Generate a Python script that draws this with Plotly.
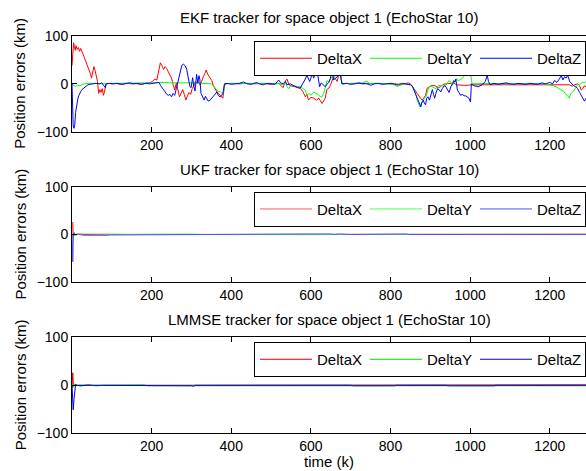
import plotly.graph_objects as go

# ---------------- data (time step k, position error km) ----------------
ekf_x_t = [0,2,4,6,8,10,13,16,19,22,25,28,31,34,37,40,43,46,49,52,55,58,61,64,67,70,73,76,79,82,85,90,100,110,120,130,140,150,160,170,180,190,198,203,208,213,218,222,226,230,234,238,242,246,250,254,258,262,266,270,274,278,282,286,290,294,298,302,306,310,314,318,322,326,330,334,337,341,346,351,355,359,364,368,372,376,379,382,385,400,420,440,460,480,500,520,530,536,540,545,550,560,573,580,586,590,594,600,607,614,620,628,632,636,640,645,649,653,657,662,666,670,674,678,690,700,720,740,760,780,800,820,835,845,850,855,859,863,867,872,876,880,884,888,892,897,902,909,915,920,926,932,940,950,959,965,975,985,995,1000,1100,1200,1250,1256,1262,1270,1275,1279,1283,1287,1291]
ekf_x = [38,75,86,78,70,80,72,76,68,74,66,60,55,48,42,35,28,22,12,22,36,28,18,5,-20,-12,-18,-10,-24,-15,0,1,0,1,-1,0,1,0,1,-1,0,1,3,6,10,8,30,44,38,30,36,32,25,18,12,-2,-13,2,-10,-27,-20,-12,-22,-34,-25,-18,-22,-10,-4,5,0,4,-3,8,15,22,29,20,12,7,-4,-10,-17,-20,-24,-28,-30,-8,0,1,0,1,0,1,-1,1,-8,6,10,-2,-4,-6,-9,-16,-27,-22,-34,-28,-30,-34,-30,-41,-35,-30,-12,-9,-3,8,15,10,5,20,25,0,1,0,1,0,1,0,1,-3,0,2,0,-5,-9,-15,-20,-27,-31,-34,-28,-24,-9,-6,-4,-3,-5,-8,-6,-1,0,1,2,-2,-3,-3,-3,-2,-2,-2,-2,-5,-2,0,-4,-13,-10,-4,-6]

ekf_y_t = [0,3,8,14,20,26,32,40,60,80,100,150,200,220,250,300,340,350,356,360,364,368,372,376,381,383,400,450,500,520,530,536,540,545,549,555,565,573,580,586,590,596,600,607,612,618,624,628,632,636,641,645,649,653,658,662,666,670,674,678,700,730,741,746,780,800,810,817,822,835,850,855,859,863,867,871,874,878,882,885,889,893,897,902,909,914,920,926,932,940,947,952,955,960,966,970,975,980,985,990,993,998,1001,1005,1050,1100,1150,1185,1200,1210,1220,1228,1235,1240,1245,1249,1253,1258,1265,1270,1278,1283,1287,1291]
ekf_y = [0,-3,-5,-3,-4,-1,0,1,1,0,1,1,2,3,2,2,1,0,-5,-10,-13,-17,-16,-20,-18,0,1,1,0,1,-2,2,-6,-10,-4,-3,-6,-6,-10,-13,-24,-20,-24,-17,-20,-22,-27,-27,-20,-10,7,3,10,15,12,18,18,22,29,0,1,2,6,1,1,0,-2,-6,-3,0,-2,-5,-13,-20,-34,-42,-48,-40,-38,-30,-27,-15,-6,-5,-9,-10,-4,-3,-5,-2,7,3,-3,2,11,6,9,11,17,18,20,22,20,0,1,0,1,0,-2,-4,-8,-13,-15,-22,-25,-30,-20,-17,-8,-2,0,4,2,5]

ekf_z_t = [0,1,3,5,7,9,11,13,15,17,19,22,25,28,32,36,40,45,50,60,70,75,80,84,86,95,105,115,125,135,145,155,165,175,185,195,205,212,219,222,225,229,234,238,242,246,250,254,258,262,267,271,276,280,284,288,292,296,299,303,306,309,313,316,319,321,324,328,332,335,338,342,347,351,355,359,364,368,372,376,379,383,390,400,410,420,431,440,450,464,470,480,490,500,510,519,524,530,536,540,548,555,561,567,573,578,582,586,590,594,597,600,603,607,611,616,619,622,626,630,636,641,645,649,653,657,661,666,670,674,678,690,700,710,720,730,740,750,760,770,780,790,800,810,820,830,842,850,855,859,863,867,871,876,879,882,885,888,891,894,898,902,905,908,911,914,918,922,926,930,935,939,943,947,952,956,959,962,964,968,972,976,980,985,989,993,997,1001,1003,1010,1020,1030,1038,1043,1046,1050,1060,1070,1080,1090,1100,1110,1120,1130,1140,1150,1160,1170,1180,1190,1200,1207,1212,1218,1224,1229,1233,1237,1241,1245,1250,1255,1260,1265,1270,1275,1279,1283,1287,1291]
ekf_z = [0,-40,-88,-93,-85,-60,-48,-38,-30,-25,-20,-16,-12,-10,-6,-3,-2,-1,0,1,0,2,-4,-8,0,1,0,1,-1,0,2,0,1,-1,1,0,1,2,3,-3,-6,-12,-17,-22,-24,-22,-27,-20,-24,-10,7,25,39,41,38,31,13,-5,-8,13,-5,-15,20,2,17,10,-20,-28,-34,-26,-30,-36,-34,-30,-27,-22,-17,-25,-27,-24,-20,0,1,-1,0,1,4,0,-1,3,0,-2,1,0,-1,8,2,0,5,-2,0,-3,-6,-8,-9,-2,4,10,18,8,5,12,22,12,20,25,10,-6,2,-2,-6,0,3,12,29,8,11,15,18,18,0,1,-1,0,2,0,1,-3,0,1,-1,0,1,0,-1,1,0,-2,-5,-13,-20,-27,-38,-48,-38,-34,-40,-44,-30,-27,-34,-20,-12,-22,-30,-20,-10,-12,-17,-10,-4,-6,-12,-18,-5,0,7,4,10,-13,-18,-24,-22,-25,-25,-27,-30,-38,0,-4,-6,-2,5,18,5,-2,1,-1,0,2,0,-1,1,0,-1,1,0,-1,2,0,3,0,7,3,10,17,8,15,12,18,5,0,-4,-6,-10,-18,-24,-29,-36,-30]

ukf_x_t = [0,1,2,3,4,5,6,8,12,20,30,60,90,95,150,200,290,300,600,1050,1060,1291]
ukf_x = [0,15,26,10,-3,5,0,-2,1,0,-2,-2,-2,0,0,1,1,0,0,0,1,1]
ukf_y_t = [0,2,4,6,10,20,100,150,300,330,580,660,700,1291]
ukf_y = [0,-8,3,-1,0,1,1,0.5,1,0,-0.5,-1,0,0]
ukf_z_t = [0,1,2,3,4,5,7,10,15,30,100,300,310,320,580,650,660,670,700,840,845,1291]
ukf_z = [0,-20,-57,-20,3,-2,2,-1,1,0,-1,0,1,0,1,1,0,1,0,1,0,0]

lm_x_t = [0,1,2,3,4,6,10,20,40,60,80,1060,1065,1291]
lm_x = [0,15,26,8,-2,1,0,-1,1,-1,0,0,1,1]
lm_y_t = [0,2,4,6,10,20,40,100,180,190,700,1291]
lm_y = [0,-5,2,-1,0,1,0,1,1,-1,-1,-1]
lm_z_t = [0,1,3,5,7,9,12,20,40,80,100,300,305,310,700,705,810,815,940,945,1060,1065,1291]
lm_z = [0,-20,-51,-30,-5,2,0,-1,0,0,-1,-1,-2,0,0,-1,-1,0,0,-1,-1,0,0]

names = ["DeltaX", "DeltaY", "DeltaZ"]
titles = ["EKF tracker for space object 1 (EchoStar 10)",
          "UKF tracker for space object 1 (EchoStar 10)",
          "LMMSE tracker for space object 1 (EchoStar 10)"]
xticks = [200, 400, 600, 800, 1000, 1200]
yticks = [-100, 0, 100]

panels = [
    [(ekf_x_t, ekf_x), (ekf_y_t, ekf_y), (ekf_z_t, ekf_z)],
    [(ukf_x_t, ukf_x), (ukf_y_t, ukf_y), (ukf_z_t, ukf_z)],
    [(lm_x_t, lm_x), (lm_y_t, lm_y), (lm_z_t, lm_z)],
]
colors = [
    ["#ff0000", "#00ff00", "#0000ff"],
    ["#ff5a5a", "#4cff4c", "#5050ff"],
    ["#dd0000", "#00dd00", "#0000dd"],
]

W, H = 586, 471
L = 72
doms = [(36, 131.7), (186.7, 282.3), (337.3, 433.3)]   # px top/bottom of each axes
title_y = [17.5, 169, 319]
legend_top = [41, 191.7, 342]
FONT = "Liberation Sans, Arial, sans-serif"

fig = go.Figure()
layout = dict(width=W, height=H, margin=dict(l=L, r=0, t=0, b=0, autoexpand=False),
              paper_bgcolor="white", plot_bgcolor="white",
              font=dict(family=FONT, size=14, color="black"),
              annotations=[])
leg_keys = ["legend", "legend2", "legend3"]
for p in range(3):
    xa = "x" if p == 0 else f"x{p+1}"
    ya = "y" if p == 0 else f"y{p+1}"
    for s in range(3):
        t, v = panels[p][s]
        fig.add_trace(go.Scatter(x=t, y=v, mode="lines", name=names[s],
                                 line=dict(color=colors[p][s], width=1),
                                 xaxis=xa, yaxis=ya, legend=leg_keys[p]))
    top, bot = doms[p]
    ax_suffix = "" if p == 0 else str(p + 1)
    layout["xaxis" + ax_suffix] = dict(
        domain=[0, 1], range=[0, 1291], anchor=ya, tickvals=xticks,
        ticks="inside", ticklen=5, tickcolor="black", showline=True,
        linecolor="black", linewidth=1, mirror="ticks", showgrid=False,
        zeroline=False, tickfont=dict(size=14))
    layout["yaxis" + ax_suffix] = dict(
        domain=[(H - bot) / H, (H - top) / H], range=[-100, 100], anchor=xa,
        tickvals=yticks, ticks="inside", ticklen=5, tickcolor="black",
        showline=True, linecolor="black", linewidth=1, mirror=False,
        showgrid=False, zeroline=False, tickfont=dict(size=14))
    layout[leg_keys[p]] = dict(
        x=(254 - L) / (W - L), y=(H - legend_top[p]) / H, xanchor="left",
        yanchor="top", orientation="h", bgcolor="white", bordercolor="black",
        borderwidth=1, font=dict(size=15), entrywidth=43,
        entrywidthmode="pixels", itemwidth=52, tracegroupgap=0)
    layout["annotations"].append(dict(
        text=titles[p], x=0.5, y=(H - title_y[p]) / H, xref="paper",
        yref="paper", showarrow=False, xanchor="center", yanchor="middle",
        font=dict(size=15)))
    layout["annotations"].append(dict(
        text="Position errors (km)", x=(20 - L) / (W - L),
        y=(H - (top + bot) / 2) / H, xref="paper", yref="paper",
        showarrow=False, textangle=-90, xanchor="center", yanchor="middle",
        font=dict(size=15)))
layout["annotations"].append(dict(
    text="time (k)", x=0.5, y=(H - 461) / H, xref="paper", yref="paper",
    showarrow=False, xanchor="center", yanchor="middle", font=dict(size=15)))
fig.update_layout(**layout)
fig.write_html("out.html", config={"displayModeBar": False},
               post_script="document.body.style.margin='0';document.body.style.overflow='hidden';")
